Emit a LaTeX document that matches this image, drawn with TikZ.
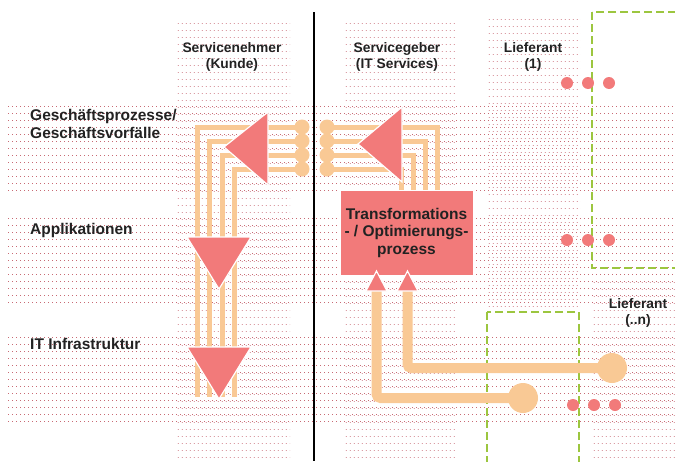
\documentclass[tikz,border=0pt]{standalone}
\usepackage{fontspec}
\setmainfont{Liberation Sans}
\usepackage{tikz}
\usetikzlibrary{patterns,positioning}
\usepackage{xcolor}
\definecolor{peach}{HTML}{F9C995}
\definecolor{salmon}{HTML}{F27A7A}
\definecolor{grass}{HTML}{9CC63F}
\definecolor{raster}{HTML}{C86A74}
\definecolor{ink}{HTML}{222222}
\pgfdeclarepatternformonly{rowdots}{\pgfpointorigin}{\pgfqpoint{4.2pt}{6.6pt}}{\pgfqpoint{4.2pt}{6.6pt}}{%
  \pgfpathrectangle{\pgfpointorigin}{\pgfqpoint{1.1pt}{0.8pt}}\pgfusepath{fill}}
\pgfdeclarepatternformonly{coldots}{\pgfpointorigin}{\pgfqpoint{4.2pt}{6.6pt}}{\pgfqpoint{4.2pt}{6.6pt}}{%
  \pgfpathrectangle{\pgfqpoint{2.1pt}{3.3pt}}{\pgfqpoint{1.1pt}{0.8pt}}\pgfusepath{fill}}

\begin{document}
\begin{tikzpicture}[x=1pt, y=-1pt,
  rowband/.style={pattern=rowdots, pattern color=raster},
  colband/.style={pattern=coldots, pattern color=raster},
  supplier/.style={draw=grass, line width=1.8pt, dash pattern=on 8pt off 4pt},
  thinflow/.style={draw=peach, line width=5pt},
  thickflow/.style={draw=peach, line width=10pt, rounded corners=4pt},
  knob/.style={circle, fill=peach, inner sep=0pt, minimum size=15pt},
  bigknob/.style={circle, fill=peach, inner sep=0pt, minimum size=30pt},
  wedge/.style={fill=salmon, draw=white, line width=1.2pt, line join=miter},
  reddot/.style={circle, fill=salmon, inner sep=0pt, minimum size=12pt},
  head/.style={font=\fontsize{13.8}{15.5}\selectfont\bfseries, text=ink, align=center},
  layer/.style={font=\fontsize{15.5}{18}\selectfont\bfseries, text=ink, align=left, anchor=west, inner sep=0pt},
  procbox/.style={fill=salmon, draw=white, line width=0.8pt, minimum width=133pt,
                  minimum height=85pt, font=\fontsize{15.5}{17.5}\selectfont\bfseries,
                  text=ink, align=center}
]
  \useasboundingbox (0,0) rectangle (675,461);
  \clip (0,0) rectangle (675,461);

  \path[rowband] (7,103) rectangle (675,190);
  \path[rowband] (7,217) rectangle (675,307);
  \path[rowband] (7,332) rectangle (675,422);
  \path[colband] (175,17) rectangle (290,461);
  \path[colband] (343,17) rectangle (455,461);
  \path[colband] (487,17) rectangle (580,307);
  \path[colband] (592,278) rectangle (675,461);

  \draw[supplier] (592,12) rectangle (690,268);
  \draw[supplier] (487,312) rectangle (579,480);

  \draw[line width=2.5pt] (314,12) -- (314,461);

  \foreach \y/\x [count=\i] in {127/197, 141/209.5, 155/222, 169/234.5} {
    \node[knob] (nk\i) at (302,\y) {};
    \coordinate (nf\i) at (\x,397);
    \draw[thinflow] (nk\i.center) -| (nf\i);
  }
  \foreach \y/\x [count=\i] in {127/437, 141/425, 155/413, 169/401} {
    \node[knob] (gk\i) at (327,\y) {};
    \coordinate (gf\i) at (\x,190);
    \draw[thinflow] (gk\i.center) -| (gf\i);
  }

  \path[wedge] (268,112) -- (268,185) -- (224,147) -- cycle;
  \path[wedge] (187,237) -- (251,237) -- (219,289) -- cycle;
  \path[wedge] (187,347) -- (251,347) -- (219,399) -- cycle;
  \path[wedge] (402,107) -- (402,182) -- (358,144) -- cycle;

  \node[procbox] (proc) at (406.5,232.5) {Transformations\\- / Optimierungs-\\prozess};

  \node[bigknob] (s1) at (523,398) {};
  \node[bigknob] (sn) at (612,368) {};
  \coordinate (up1) at (376.5,290);
  \coordinate (up2) at (407.5,290);
  \draw[thickflow] (up1) |- (s1.center);
  \draw[thickflow] (up2) |- (sn.center);
  \path[wedge] (366,291) -- (387,291) -- (376.5,271) -- cycle;
  \path[wedge] (397,291) -- (418,291) -- (407.5,271) -- cycle;

  \foreach \x/\y [count=\i] in {567/83, 588/83, 609/83, 567/240, 588/240, 609/240,
                                573/405, 594/405, 615/405}
    \node[reddot] (d\i) at (\x,\y) {};

  \node[head] (kunde) at (232,57) {Servicenehmer\\(Kunde)};
  \node[head] (itsvc) at (397,57) {Servicegeber\\(IT Services)};
  \node[head] (lief1) at (533,57) {Lieferant\\(1)};
  \node[head] (liefn) at (638,313) {Lieferant\\(..n)};

  \node[layer] (gp) at (30,124) {Geschäftsprozesse/\\Geschäftsvorfälle};
  \node[layer, anchor=base west] (app) at (30,234) {Applikationen};
  \node[layer, anchor=base west] (infra) at (30,349) {IT Infrastruktur};
\end{tikzpicture}
\end{document}
